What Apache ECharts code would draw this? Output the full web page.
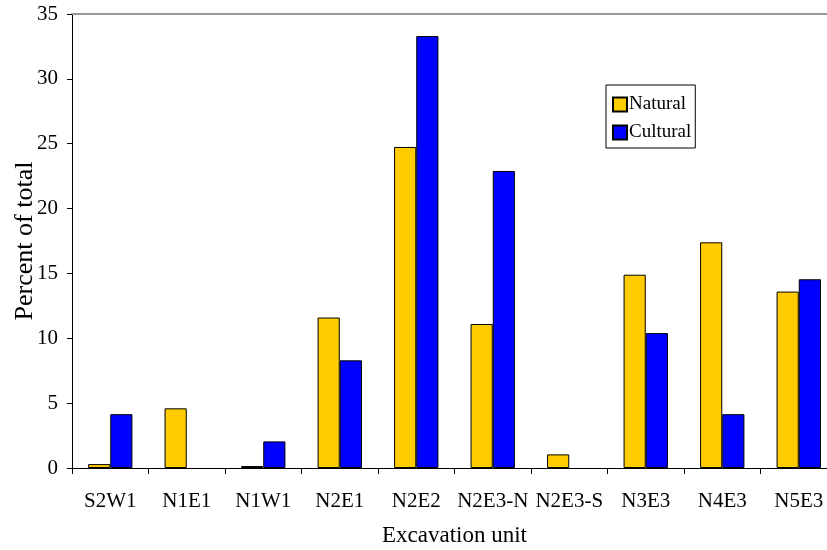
<!DOCTYPE html>
<html>
<head>
<meta charset="utf-8">
<script src="https://cdn.jsdelivr.net/npm/echarts@6/dist/echarts.min.js"></script>
<style>
html,body{margin:0;padding:0;background:#fff;}
#chart{width:827px;height:550px;}
</style>
</head>
<body>
<div id="chart"></div>
<script>
const categories = ['S2W1','N1E1','N1W1','N2E1','N2E2','N2E3-N','N2E3-S','N3E3','N4E3','N5E3'];
const natural = [0.3, 4.6, 0.15, 11.6, 24.75, 11.1, 1.05, 14.9, 17.4, 13.6];
const cultural = [4.15, 0, 2.05, 8.3, 33.3, 22.9, 0, 10.4, 4.15, 14.55];
const seriesNames = ['Natural','Cultural'];
const yTicks = [0,5,10,15,20,25,30,35];

const font = 'Liberation Serif';
const toItems = arr => arr.map(v => v === 0 ? { value: v, itemStyle: { borderWidth: 0 } } : v);
const chart = echarts.init(document.getElementById('chart'));
chart.setOption({
  animation: false,
  backgroundColor: '#ffffff',
  grid: { left: 72, top: 14, width: 765, height: 454, containLabel: false, outerBoundsMode: 'none' },
  legend: {
    data: seriesNames,
    orient: 'vertical',
    left: 606, top: 85,
    padding: [10, 4, 6, 6],
    itemGap: 9,
    itemWidth: 14, itemHeight: 14,
    icon: 'rect',
    borderColor: '#000', borderWidth: 1,
    textStyle: { fontFamily: font, fontSize: 19, color: '#000', padding: [0,0,0,-3] }
  },
  xAxis: [{
    type: 'category',
    data: categories,
    axisLine: { lineStyle: { color: '#000', width: 1 } },
    axisTick: { show: true, length: 6, alignWithLabel: false, lineStyle: { color: '#000' } },
    axisLabel: { fontFamily: font, fontSize: 21, color: '#000', margin: 23, interval: 0 },
    name: 'Excavation unit',
    nameLocation: 'middle',
    nameGap: 56,
    nameMoveOverlap: false,
    nameTextStyle: { fontFamily: font, fontSize: 23, color: '#000' }
  }, {
    type: 'category',
    data: categories,
    position: 'top',
    axisLine: { lineStyle: { color: '#999', width: 2 } },
    axisTick: { show: false },
    axisLabel: { show: false }
  }],
  yAxis: {
    type: 'value',
    min: yTicks[0], max: yTicks[yTicks.length-1], interval: 5,
    axisLine: { show: true, lineStyle: { color: '#000', width: 1 } },
    axisTick: { show: true, length: 5, lineStyle: { color: '#000' } },
    splitLine: { show: false },
    axisLabel: { fontFamily: font, fontSize: 21, color: '#000', margin: 14 },
    name: 'Percent of total',
    nameLocation: 'middle',
    nameGap: 34,
    nameMoveOverlap: false,
    nameTextStyle: { fontFamily: font, fontSize: 26, color: '#000' }
  },
  series: [{
    name: seriesNames[0], type: 'bar', data: toItems(natural),
    barGap: '0%', barCategoryGap: '42%',
    itemStyle: { color: '#FFCC00', borderColor: '#000', borderWidth: 1 }
  }, {
    name: seriesNames[1], type: 'bar', data: toItems(cultural),
    barGap: '0%', barCategoryGap: '42%',
    itemStyle: { color: '#0000FF', borderColor: '#000', borderWidth: 1 }
  }]
});
</script>
</body>
</html>
